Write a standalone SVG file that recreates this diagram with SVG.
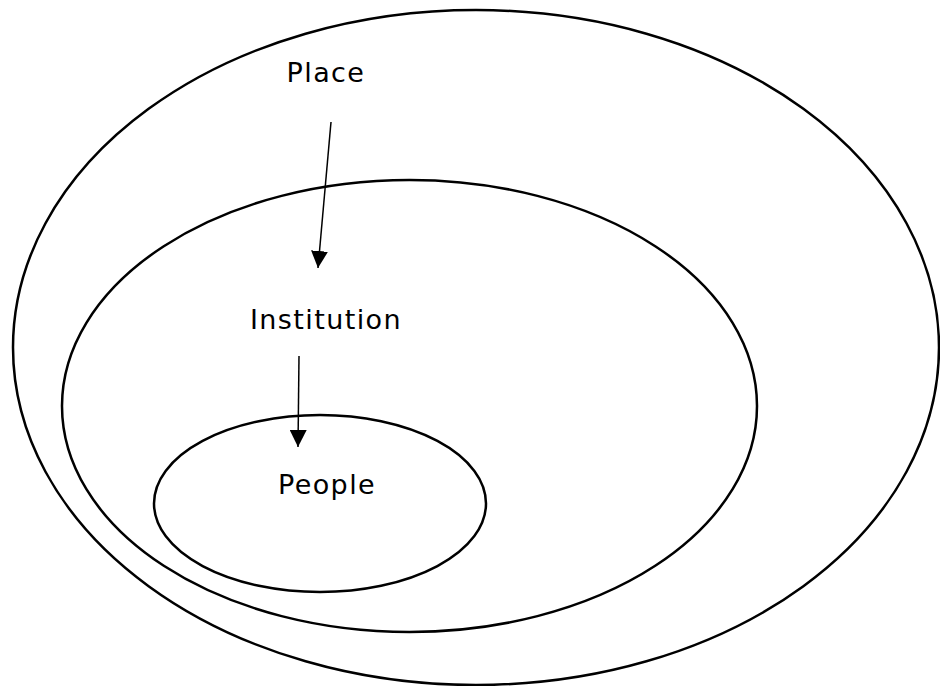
<svg xmlns="http://www.w3.org/2000/svg" width="940" height="686" viewBox="0 0 940 686">
<style>
.ring{fill:none;stroke:#000;stroke-width:2.5}
.lbl{font-family:"DejaVu Sans",Verdana,sans-serif;font-size:27px;fill:#000;text-anchor:middle;letter-spacing:1.4px}
.conn{stroke:#000;stroke-width:1.5;fill:none}
</style>
<defs>
<marker id="ah" markerWidth="18" markerHeight="17" refX="17" refY="8.5" orient="auto" markerUnits="userSpaceOnUse">
<path d="M0,0 L17,8.5 L0,17 Z" fill="#000"/>
</marker>
</defs>
<rect width="940" height="686" fill="#fff"/>
<g id="place">
<ellipse class="ring" cx="476" cy="347.5" rx="463" ry="337.5"/>
<text class="lbl" x="326" y="82">Place</text>
</g>
<g id="institution">
<ellipse class="ring" cx="409.5" cy="406" rx="347.5" ry="226"/>
<text class="lbl" x="326" y="329">Institution</text>
</g>
<g id="people">
<ellipse class="ring" cx="320" cy="503.5" rx="166" ry="88.5"/>
<text class="lbl" x="327" y="494">People</text>
</g>
<g id="connectors">
<line class="conn" x1="331" y1="122" x2="318" y2="268" marker-end="url(#ah)"/>
<line class="conn" x1="299" y1="356" x2="298" y2="447" marker-end="url(#ah)"/>
</g>
</svg>
